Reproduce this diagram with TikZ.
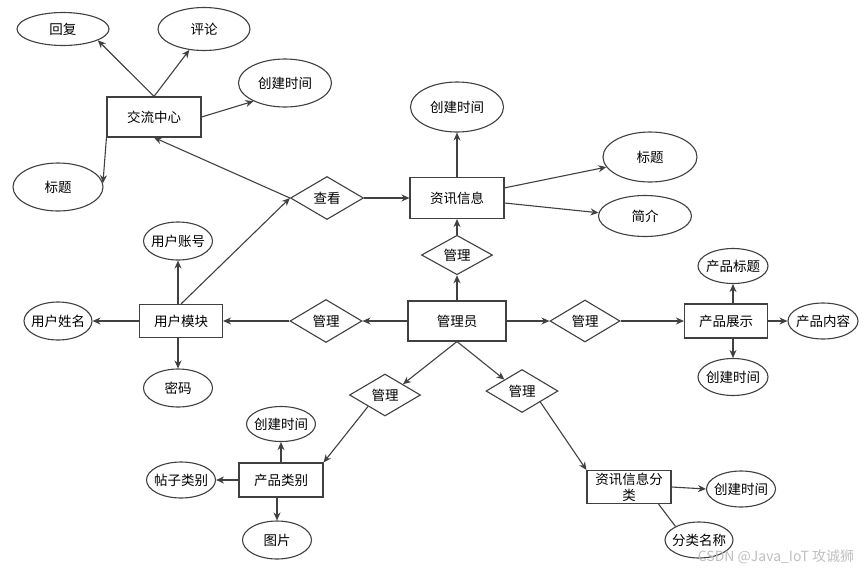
\documentclass[tikz,border=0pt]{standalone}
\usepackage{fontspec}
\newfontfamily\cjk{Noto Sans CJK SC}
\usetikzlibrary{shapes.geometric,arrows.meta}
\colorlet{erline}{black!75}
\tikzset{
  entity/.style 2 args={rectangle, draw=erline, line width=1.1pt, fill=white,
                        minimum width=#1, minimum height=#2, inner sep=1pt,
                        font=\cjk\fontsize{13.5}{16}\selectfont, align=center},
  attr/.style 2 args={ellipse, draw=erline, line width=1.1pt, fill=white,
                      minimum width=#1, minimum height=#2, inner sep=0pt,
                      font=\cjk\fontsize{13.5}{16}\selectfont,
                      execute at begin node={\hbox to 0pt\bgroup\hss},
                      execute at end node={\hss\egroup}},
  rel/.style 2 args={diamond, draw=erline, line width=1.1pt, fill=white,
                     minimum width=#1, minimum height=#2, inner sep=0pt,
                     font=\cjk\fontsize{13.5}{16}\selectfont},
  link/.style={-{Stealth[length=8pt,width=7pt]}, draw=erline, line width=1.1pt},
  plainlink/.style={draw=erline, line width=1.1pt},
}

\begin{document}
\begin{tikzpicture}[x=1pt, y=-1pt]
  \useasboundingbox (0,0) rectangle (865,571);
  % entities
  \node[entity={94pt}{40pt}] (jlzx) at (154,117) {交流中心};
  \node[entity={94pt}{41pt}] (zxxx) at (457,198) {资讯信息};
  \node[entity={83pt}{33pt}] (yhmk) at (181,321) {用户模块};
  \node[entity={98pt}{40pt}] (gly)  at (457,321) {管理员};
  \node[entity={83pt}{34pt}] (cpzs) at (726,321) {产品展示};
  \node[entity={84pt}{34pt}] (cplb) at (281,480) {产品类别};
  \node[entity={84pt}{33pt}] (zxfl) at (629,487) {资讯信息分\\类};
  % attributes
  \node[attr={92pt}{33pt}] (hf)   at (63,29)   {回复};
  \node[attr={92pt}{43pt}] (pl)   at (204,29)  {评论};
  \node[attr={93pt}{48pt}] (jlsj) at (285,83)  {创建时间};
  \node[attr={90pt}{48pt}] (jlbt) at (58,187)  {标题};
  \node[attr={93pt}{50pt}] (zxsj) at (457,107) {创建时间};
  \node[attr={94pt}{50pt}] (zxbt) at (650,157) {标题};
  \node[attr={93pt}{41pt}] (zxjj) at (645,216) {简介};
  \node[attr={69pt}{38pt}] (yhzh) at (178,241) {用户账号};
  \node[attr={68pt}{38pt}] (yhxm) at (58,321)  {用户姓名};
  \node[attr={69pt}{38pt}] (mm)   at (178,388) {密码};
  \node[attr={70pt}{35pt}] (cpbt) at (733,266) {产品标题};
  \node[attr={70pt}{36pt}] (cpnr) at (823,321) {产品内容};
  \node[attr={70pt}{37pt}] (cpsj) at (733,377) {创建时间};
  \node[attr={69pt}{35pt}] (lbsj) at (281,424) {创建时间};
  \node[attr={69pt}{36pt}] (tzlb) at (181,480) {帖子类别};
  \node[attr={69pt}{38pt}] (tp)   at (277,540) {图片};
  \node[attr={69pt}{36pt}] (flsj) at (741,489) {创建时间};
  \node[attr={68pt}{36pt}] (flmc) at (699,540) {分类名称};
  % relations
  \node[rel={73pt}{43pt}] (ck)  at (327,198) {查看};
  \node[rel={71pt}{38pt}] (gl1) at (457,255) {管理};
  \node[rel={72pt}{43pt}] (gl2) at (326,321) {管理};
  \node[rel={70pt}{42pt}] (gl3) at (585,321) {管理};
  \node[rel={71pt}{42pt}] (gl4) at (385,395) {管理};
  \node[rel={72pt}{43pt}] (gl5) at (522,391) {管理};

  % exchange centre
  \draw[link] (jlzx.north) -- (hf.-18);
  \draw[link] (jlzx.north) -- (pl.-125);
  \draw[link] (jlzx.east) -- (jlsj.-150);
  \draw[link] (jlzx.south west) -- (jlbt.5);
  \draw[link] (ck.west) -- (jlzx.south);
  \draw[link] (yhmk.north) -- (ck.west);
  % news
  \draw[link] (ck.east) -- (zxxx.west);
  \draw[link] (zxxx.north) -- (zxsj.south);
  \draw[link] (zxxx.12) -- (zxbt.-167);
  \draw[link] (zxxx.-6) -- (zxjj.176);
  \draw[link] (gl1.north) -- (zxxx.south);
  \draw[link] (gly.north) -- (gl1.south);
  % user module
  \draw[link] (yhmk.north -| yhzh.south) -- (yhzh.south);
  \draw[link] (yhmk.west) -- (yhxm.east);
  \draw[link] (yhmk.south -| mm.north) -- (mm.north);
  \draw[link] (gl2.west) -- (yhmk.east);
  \draw[link] (gly.west) -- (gl2.east);
  % product display
  \draw[link] (gly.east) -- (gl3.west);
  \draw[link] (gl3.east) -- (cpzs.west);
  \draw[link] (cpzs.north -| cpbt.south) -- (cpbt.south);
  \draw[link] (cpzs.east) -- (cpnr.west);
  \draw[link] (cpzs.south -| cpsj.north) -- (cpsj.north);
  % product category
  \draw[link] (gly.south) -- (gl4.31);
  \draw[link] (gl4.-146) -- (cplb.north east);
  \draw[link] (cplb.north) -- (lbsj.south);
  \draw[link] (cplb.west) -- (tzlb.east);
  \draw[link] (cplb.south -| tp.north) -- (tp.north);
  % news category
  \draw[link] (gly.south) -- (gl5.147);
  \draw[link] (gl5.-31) -- (zxfl.north west);
  \draw[link] (zxfl.east) -- (flsj.west);
  \draw[plainlink] (zxfl.-30) -- (flmc.150);

  \node[font=\cjk\fontsize{14}{16}\selectfont, text=black!25] (wm) at (776,557) {CSDN @Java\_IoT 攻诚狮};
\end{tikzpicture}
\end{document}
